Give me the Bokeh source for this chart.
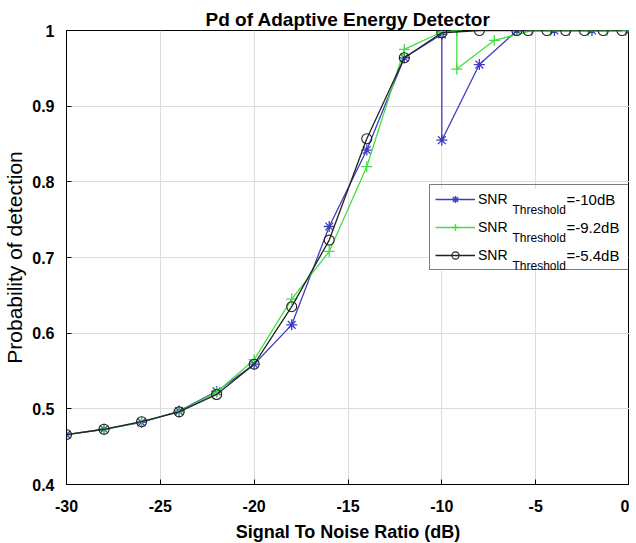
from bokeh.plotting import figure
from bokeh.models import Range1d, FixedTicker, Legend, LegendItem, Label, BoxAnnotation
from bokeh.embed import file_html
from bokeh.resources import INLINE

# ---------------- data ----------------
x_ticks = [-30, -25, -20, -15, -10, -5, 0]
x_tick_labels = ["-30", "-25", "-20", "-15", "-10", "-5", "0"]
y_ticks = [0.4, 0.5, 0.6, 0.7, 0.8, 0.9, 1.0]
y_tick_labels = ["0.4", "0.5", "0.6", "0.7", "0.8", "0.9", "1"]

series_names = ["-10dB", "-9.2dB", "-5.4dB"]

snr_blue = [-30, -28, -26, -24, -22, -20, -18, -16, -14, -12, -10, -10, -8, -6, -4, -2, 0]
pd_blue = [0.466, 0.473, 0.482, 0.497, 0.523, 0.559, 0.611, 0.741, 0.842, 0.964, 0.995,
           0.855, 0.955, 1.0, 1.0, 1.0, 1.0]

snr_green = [-30, -28, -26, -24, -22, -20, -18, -16, -14, -12, -10,
             -9.2, -9.2, -7.2, -5.2, -4.2, -3.2, -2.2, -1.2, -0.2]
pd_green = [0.466, 0.473, 0.483, 0.496, 0.522, 0.565, 0.645, 0.708, 0.820, 0.975, 0.998,
            1.0, 0.949, 0.987, 1.0, 1.0, 1.0, 1.0, 1.0, 1.0]

snr_black = [-30, -28, -26, -24, -22, -20, -18, -16, -14, -12, -10,
             -8, -6, -5.4, -4.4, -3.4, -2.4, -1.4, -0.4]
pd_black = [0.466, 0.473, 0.483, 0.496, 0.519, 0.559, 0.635, 0.723, 0.857, 0.964, 0.997,
            1.0, 1.0, 1.0, 1.0, 1.0, 1.0, 1.0, 1.0]

# ---------------- figure ----------------
p = figure(frame_width=563, frame_height=454,
           x_range=Range1d(-30, 0), y_range=Range1d(0.4, 1.0),
           min_border_left=57, min_border_right=0, min_border_top=30, min_border_bottom=50,
           output_backend="svg", toolbar_location=None,
           title="Pd of Adaptive Energy Detector")

p.title.align = "center"
p.title.text_font = "Liberation Sans"
p.title.text_font_size = "19px"
p.title.text_font_style = "bold"
p.title.text_color = "black"
p.title.standoff = 2

p.outline_line_color = "black"
p.outline_line_width = 1
p.background_fill_color = "white"
p.border_fill_color = "white"

p.xaxis.ticker = FixedTicker(ticks=x_ticks)
p.yaxis.ticker = FixedTicker(ticks=y_ticks)
p.xaxis.major_label_overrides = {t: s for t, s in zip(x_ticks, x_tick_labels)}
p.yaxis.major_label_overrides = {t: s for t, s in zip(y_ticks, y_tick_labels)}

for ax in (p.xaxis, p.yaxis):
    ax.axis_line_color = "black"
    ax.major_tick_in = 5
    ax.major_tick_out = 0
    ax.minor_tick_line_color = None
    ax.major_tick_line_color = "black"
    ax.major_label_text_font = "Liberation Sans"
    ax.major_label_text_font_style = "bold"
    ax.major_label_text_font_size = "16px"
    ax.major_label_text_color = "black"
    ax.axis_label_text_color = "black"
    ax.axis_label_text_font = "Liberation Sans"

p.xaxis.major_label_standoff = 15
p.yaxis.major_label_standoff = 12
p.xaxis.axis_label = "Signal To Noise Ratio (dB)"
p.xaxis.axis_label_text_font_size = "18px"
p.xaxis.axis_label_text_font_style = "bold"
p.xaxis.axis_label_standoff = 7
p.yaxis.axis_label = "Probability of detection"
p.yaxis.axis_label_text_font_size = "21px"
p.yaxis.axis_label_text_font_style = "normal"
p.yaxis.axis_label_standoff = 3

p.xgrid.grid_line_color = "#dcdcdc"
p.ygrid.grid_line_color = "#dcdcdc"

blue = "#3c3cc4"
green = "#44dd44"
black = "#222222"

lb = p.line(snr_blue, pd_blue, line_color=blue, line_width=1.3)
sb = p.scatter(snr_blue, pd_blue, marker="asterisk", size=11, line_color=blue, line_width=1.3)
lg = p.line(snr_green, pd_green, line_color=green, line_width=1.3)
sg = p.scatter(snr_green, pd_green, marker="cross", size=11, line_color=green, line_width=1.3)
lk = p.line(snr_black, pd_black, line_color=black, line_width=1.3)
sk = p.scatter(snr_black, pd_black, marker="circle", size=10, line_color=black,
               fill_color=None, line_width=1.1)

# ---------------- legend layout (screen px, frame-relative) ----------------
leg_left = 363
leg_bottom = 214
leg_w = 198
leg_h = 82

p.add_layout(BoxAnnotation(left=leg_left, right=leg_left + leg_w,
                           bottom=leg_bottom, top=leg_bottom + leg_h,
                           left_units="screen", right_units="screen",
                           bottom_units="screen", top_units="screen",
                           fill_color="white", fill_alpha=1.0, line_color=None))

row_centers = [leg_bottom + 71, leg_bottom + 43, leg_bottom + 15]
for name, yc in zip(series_names, row_centers):
    p.add_layout(Label(x=leg_left + 83, y=yc - 10, x_units="screen", y_units="screen",
                       text="Threshold", text_font="Liberation Sans", text_font_size="12px",
                       text_baseline="middle", text_align="left", text_color="black"))
    p.add_layout(Label(x=leg_left + 137, y=yc, x_units="screen", y_units="screen",
                       text="=" + name, text_font="Liberation Sans", text_font_size="15px",
                       text_baseline="middle", text_align="left", text_color="black"))

legend = Legend(items=[LegendItem(label="SNR", renderers=[lb, sb]),
                       LegendItem(label="SNR", renderers=[lg, sg]),
                       LegendItem(label="SNR", renderers=[lk, sk])],
                location=(leg_left, leg_bottom), orientation="vertical",
                border_line_color="black", border_line_width=1,
                background_fill_alpha=0.0,
                padding=5, spacing=10, margin=0,
                glyph_width=40, glyph_height=18, label_height=18,
                label_width=145, label_standoff=3,
                label_text_font="Liberation Sans", label_text_font_size="14px",
                label_text_color="black")
p.add_layout(legend)

open("out.html", "w").write(file_html(p, INLINE))
